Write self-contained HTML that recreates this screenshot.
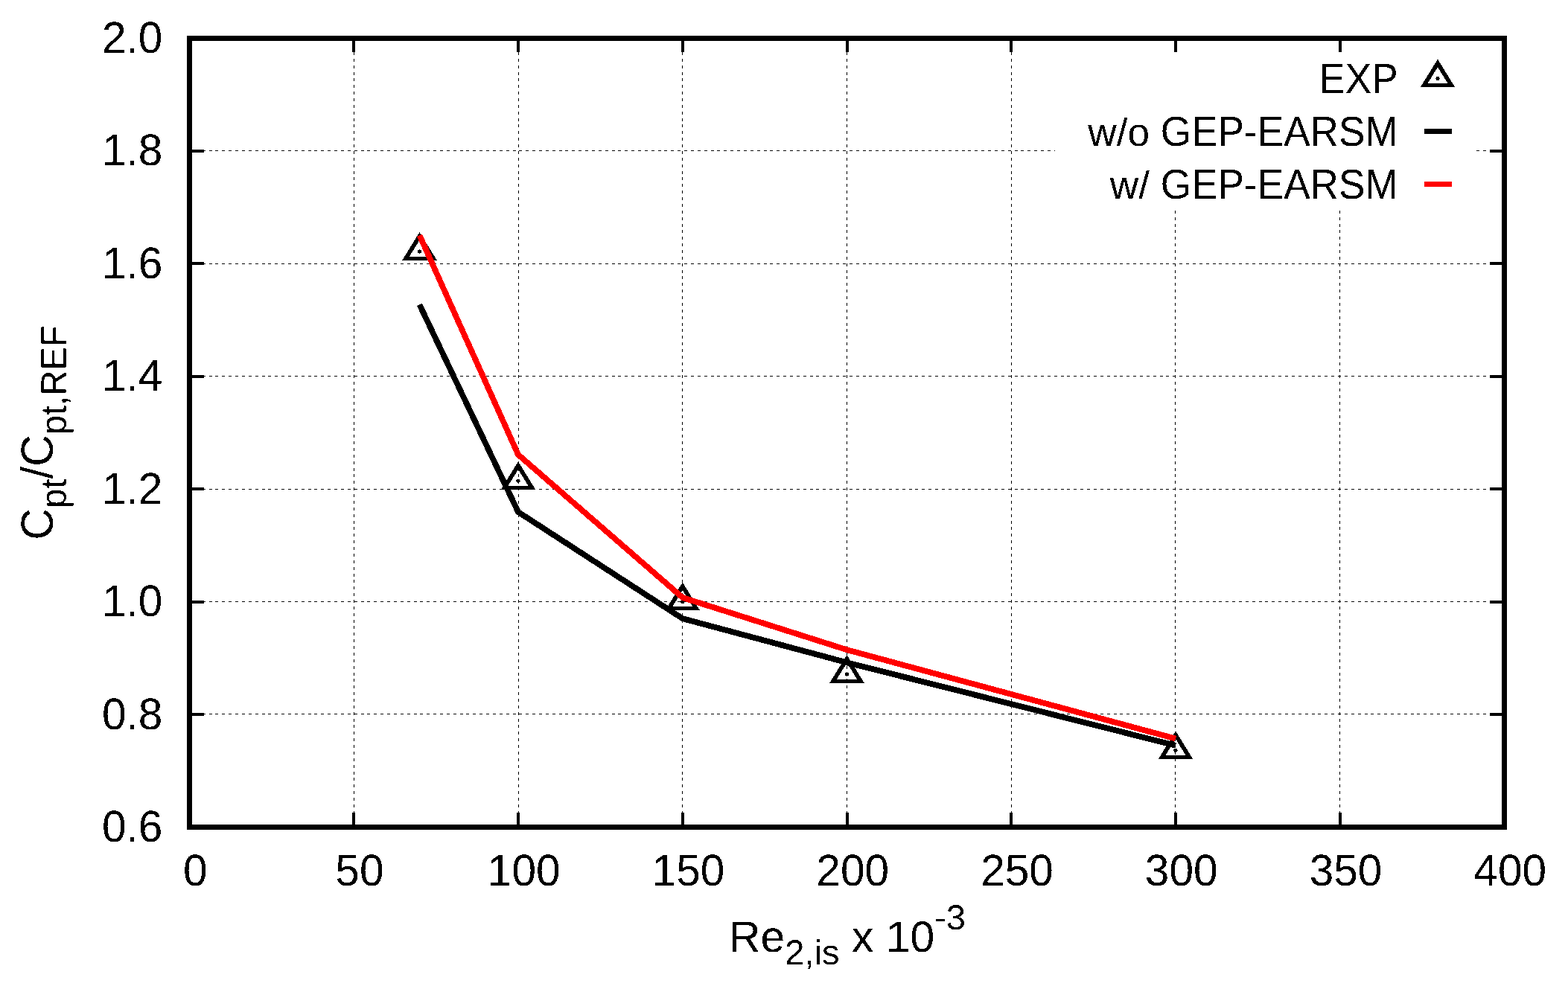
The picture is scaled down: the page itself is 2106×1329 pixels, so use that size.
<!DOCTYPE html>
<html lang="en">
<head>
<meta charset="utf-8">
<title>Cpt/Cpt,REF vs Re2,is</title>
<style>
html,body{margin:0;padding:0;background:#fff;}
body{width:2106px;height:1329px;overflow:hidden;}
svg{display:block;}
text{font-family:"Liberation Sans",sans-serif;fill:#000;font-kerning:none;font-variant-ligatures:none;text-rendering:geometricPrecision;}
.t{font-size:59px;}
.k{font-size:53.15px;}
.n{font-size:58.6px;}
.s{font-size:47.2px;}
.g{stroke:#000;stroke-width:1;stroke-dasharray:4 4.868;fill:none;shape-rendering:crispEdges;}
.tk{fill:#000;shape-rendering:crispEdges;}
.tri{fill:#000;fill-rule:evenodd;shape-rendering:crispEdges;}
.ln{fill:none;stroke-width:7.8;stroke-linejoin:miter;stroke-linecap:butt;shape-rendering:crispEdges;}
.bin{filter:url(#bin);}
</style>
</head>
<body>
<svg width="2106" height="1329" viewBox="0 0 2106 1329">
<defs><filter id="bin" filterUnits="userSpaceOnUse" x="0" y="0" width="2106" height="1329" color-interpolation-filters="sRGB"><feComponentTransfer><feFuncA type="discrete" tableValues="0 1"/></feComponentTransfer></filter></defs>
<rect x="0" y="0" width="2106" height="1329" fill="#fff"/>
<g class="g">
<line x1="475.5" y1="1111.5" x2="475.5" y2="51.5"/>
<line x1="696.5" y1="1111.5" x2="696.5" y2="51.5"/>
<line x1="916.5" y1="1111.5" x2="916.5" y2="51.5"/>
<line x1="1137.5" y1="1111.5" x2="1137.5" y2="51.5"/>
<line x1="1358.5" y1="1111.5" x2="1358.5" y2="51.5"/>
<line x1="1578.5" y1="1111.5" x2="1578.5" y2="51.5"/>
<line x1="1799.5" y1="1111.5" x2="1799.5" y2="51.5"/>
<line x1="254" y1="959.5" x2="2020.5" y2="959.5"/>
<line x1="254" y1="808.5" x2="2020.5" y2="808.5"/>
<line x1="254" y1="657.5" x2="2020.5" y2="657.5"/>
<line x1="254" y1="505.5" x2="2020.5" y2="505.5"/>
<line x1="254" y1="354.5" x2="2020.5" y2="354.5"/>
<line x1="254" y1="202.5" x2="2020.5" y2="202.5"/>
</g>
<rect x="1417" y="58" width="566" height="224" fill="#fff"/>
<g class="tk">
<rect x="473" y="1092" width="4" height="18"/>
<rect x="473" y="53" width="4" height="17"/>
<rect x="694" y="1092" width="4" height="18"/>
<rect x="694" y="53" width="4" height="17"/>
<rect x="915" y="1092" width="4" height="18"/>
<rect x="915" y="53" width="4" height="17"/>
<rect x="1136" y="1092" width="4" height="18"/>
<rect x="1136" y="53" width="4" height="17"/>
<rect x="1356" y="1092" width="4" height="18"/>
<rect x="1356" y="53" width="4" height="17"/>
<rect x="1577" y="1092" width="4" height="18"/>
<rect x="1577" y="53" width="4" height="17"/>
<rect x="1798" y="1092" width="4" height="18"/>
<rect x="1798" y="53" width="4" height="17"/>
<rect x="256" y="958" width="18" height="4"/>
<rect x="2001" y="958" width="18" height="4"/>
<rect x="256" y="807" width="18" height="4"/>
<rect x="2001" y="807" width="18" height="4"/>
<rect x="256" y="655" width="18" height="4"/>
<rect x="2001" y="655" width="18" height="4"/>
<rect x="256" y="504" width="18" height="4"/>
<rect x="2001" y="504" width="18" height="4"/>
<rect x="256" y="352" width="18" height="4"/>
<rect x="2001" y="352" width="18" height="4"/>
<rect x="256" y="201" width="18" height="4"/>
<rect x="2001" y="201" width="18" height="4"/>
</g>
<rect x="254.5" y="51.5" width="1766" height="1060" fill="none" stroke="#000" stroke-width="7" shape-rendering="crispEdges"/>
<g>
<path class="tri" d="M563.50 312.00L540.20 349.80L586.80 349.80ZM563.50 322.70L550.05 344.50L576.95 344.50Z"/><circle cx="563.50" cy="338.00" r="2.6" fill="#000" shape-rendering="crispEdges"/>
<path class="tri" d="M696.00 620.20L672.70 658.00L719.30 658.00ZM696.00 630.90L682.55 652.70L709.45 652.70Z"/><circle cx="696.00" cy="646.20" r="2.6" fill="#000" shape-rendering="crispEdges"/>
<path class="tri" d="M916.75 782.50L893.45 820.30L940.05 820.30ZM916.75 793.20L903.30 815.00L930.20 815.00Z"/><circle cx="916.75" cy="808.50" r="2.6" fill="#000" shape-rendering="crispEdges"/>
<path class="tri" d="M1137.50 880.00L1114.20 917.80L1160.80 917.80ZM1137.50 890.70L1124.05 912.50L1150.95 912.50Z"/><circle cx="1137.50" cy="906.00" r="2.6" fill="#000" shape-rendering="crispEdges"/>
<path class="tri" d="M1579.00 982.30L1555.70 1020.10L1602.30 1020.10ZM1579.00 993.00L1565.55 1014.80L1592.45 1014.80Z"/><circle cx="1579.00" cy="1008.30" r="2.6" fill="#000" shape-rendering="crispEdges"/>
</g>
<polyline class="ln" points="563.50,409.45 696.00,688.00 916.75,831.20 1137.50,890.30 1579.00,1001.80" stroke="#000"/>
<polyline class="ln" points="563.50,316.20 696.00,611.00 916.75,803.00 1137.50,873.20 1579.00,992.60" stroke="#f00"/>
<g class="bin">
<text class="k" transform="translate(1877.70 125) scale(1 1.065)" text-anchor="end">EXP</text>
<path class="tri" d="M1931.00 79.50L1907.70 117.30L1954.30 117.30ZM1931.00 90.20L1917.55 112.00L1944.45 112.00Z"/><circle cx="1931.00" cy="105.50" r="2.6" fill="#000" shape-rendering="crispEdges"/>
<text class="k" x="1543.97" y="196.3" text-anchor="end">w/o</text>
<text class="k" transform="translate(1877.70 196.3) scale(1 1.065)" text-anchor="end">GEP-EARSM</text>
<rect x="1913" y="173" width="37" height="7" fill="#000"/>
<text class="k" x="1543.97" y="267" text-anchor="end">w/</text>
<text class="k" transform="translate(1877.70 267) scale(1 1.065)" text-anchor="end">GEP-EARSM</text>
<rect x="1913" y="244" width="37" height="7" fill="#f00"/>
<text class="n" transform="translate(218.4 1131.0) scale(1 1.02)" text-anchor="end">0.6</text>
<text class="n" transform="translate(218.4 979.6) scale(1 1.02)" text-anchor="end">0.8</text>
<text class="n" transform="translate(218.4 828.1) scale(1 1.02)" text-anchor="end">1.0</text>
<text class="n" transform="translate(218.4 676.7) scale(1 1.02)" text-anchor="end">1.2</text>
<text class="n" transform="translate(218.4 525.3) scale(1 1.02)" text-anchor="end">1.4</text>
<text class="n" transform="translate(218.4 373.9) scale(1 1.02)" text-anchor="end">1.6</text>
<text class="n" transform="translate(218.4 222.4) scale(1 1.02)" text-anchor="end">1.8</text>
<text class="n" transform="translate(218.4 71.0) scale(1 1.02)" text-anchor="end">2.0</text>
<text class="n" transform="translate(262.2 1190) scale(1 1.02)" text-anchor="middle">0</text>
<text class="n" transform="translate(482.9 1190) scale(1 1.02)" text-anchor="middle">50</text>
<text class="n" transform="translate(703.7 1190) scale(1 1.02)" text-anchor="middle">100</text>
<text class="n" transform="translate(924.5 1190) scale(1 1.02)" text-anchor="middle">150</text>
<text class="n" transform="translate(1145.2 1190) scale(1 1.02)" text-anchor="middle">200</text>
<text class="n" transform="translate(1366.0 1190) scale(1 1.02)" text-anchor="middle">250</text>
<text class="n" transform="translate(1586.7 1190) scale(1 1.02)" text-anchor="middle">300</text>
<text class="n" transform="translate(1807.5 1190) scale(1 1.02)" text-anchor="middle">350</text>
<text class="n" transform="translate(2028.2 1190) scale(1 1.02)" text-anchor="middle">400</text>
<text class="t" style="font-size:58.8px" x="979" y="1278.6">Re<tspan class="s" dy="17.7">2,is</tspan><tspan dy="-17.7"> x 10</tspan><tspan class="s" dy="-29.5">-3</tspan></text>
<text class="t" style="font-size:59.3px" transform="translate(71 725.6) rotate(-90) scale(1 1.025)">C<tspan class="s" dy="17.7">pt</tspan><tspan dy="-17.7">/C</tspan><tspan class="s" dy="17.7">pt,REF</tspan></text>
</g>
</svg>
</body>
</html>
